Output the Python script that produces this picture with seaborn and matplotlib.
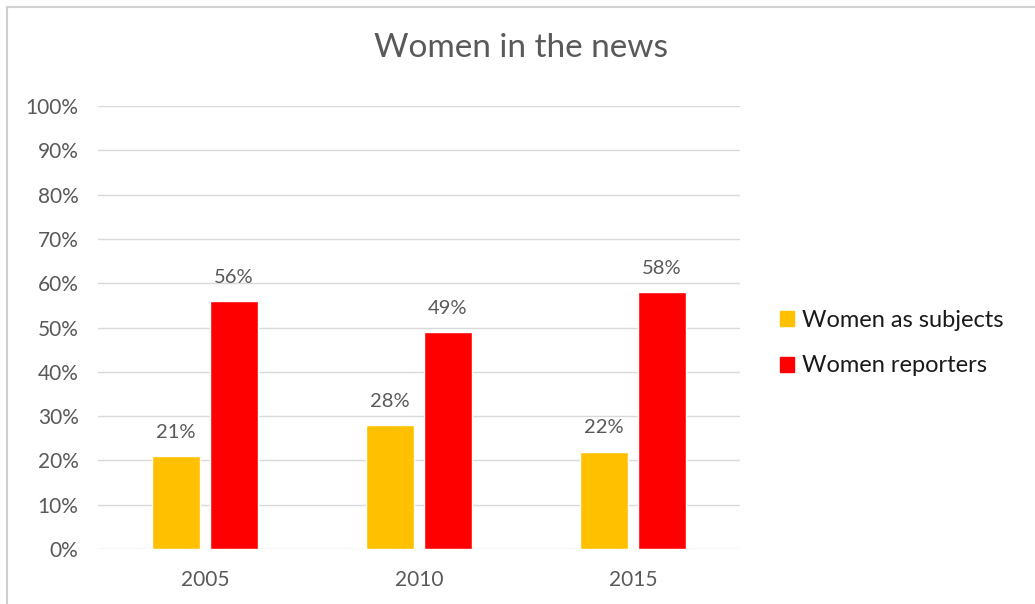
import pandas as pd
import matplotlib.pyplot as plt
import seaborn as sns
from matplotlib.patches import Rectangle, Patch

# datos
years = ['2005', '2010', '2015']
subjects = [0.21, 0.28, 0.22]
reporters = [0.56, 0.49, 0.58]
series_names = ['Women as subjects', 'Women reporters']
colors = ['#FFC000', '#FF0000']

df = pd.DataFrame({
    'year': years * 2,
    'serie': [series_names[0]] * 3 + [series_names[1]] * 3,
    'value': subjects + reporters,
})

sns.set_style('white')
plt.rcParams['font.family'] = ['Lato', 'DejaVu Sans']

fig = plt.figure(figsize=(10.35, 6.04), dpi=100)
ax = fig.add_axes([0.0947, 0.091, 0.62, 0.7335])

sns.barplot(data=df, x='year', y='value', hue='serie', palette=colors,
            width=0.54, gap=0.17, ax=ax, legend=False, saturation=1)

ax.set_ylim(0, 1.0)
ax.set_yticks([i / 10 for i in range(11)])
ax.set_yticklabels([f'{i * 10}%' for i in range(11)], color='#595959', fontsize=15)
ax.tick_params(axis='x', labelsize=15, labelcolor='#595959', pad=15, length=0)
ax.tick_params(axis='y', pad=14, length=0)
ax.set_xlabel('')
ax.set_ylabel('')
ax.yaxis.grid(True, color='#D9D9D9', linewidth=1)
ax.set_axisbelow(True)
for s in ax.spines.values():
    s.set_visible(False)

# etiquetas de datos
for cont in ax.containers:
    ax.bar_label(cont, labels=[f'{v * 100:.0f}%' for v in cont.datavalues],
                 padding=11, fontsize=14.5, color='#595959')

fig.text(0.503, 0.92, 'Women in the news', ha='center', va='center',
         fontsize=24, color='#595959')

handles = [Patch(color=c) for c in colors]
fig.legend(handles, series_names, loc='center left', bbox_to_anchor=(0.733, 0.432),
           frameon=False, fontsize=17, handlelength=0.6, handleheight=0.6,
           handletextpad=0.35, labelspacing=1.05, labelcolor='#1A1A1A')

# borde del gráfico
fig.patches.append(Rectangle((0.007, -0.01), 1.0, 0.998, transform=fig.transFigure,
                             fill=False, edgecolor='#D0D0D0', linewidth=1.5))

plt.savefig('out.png', dpi=100)
